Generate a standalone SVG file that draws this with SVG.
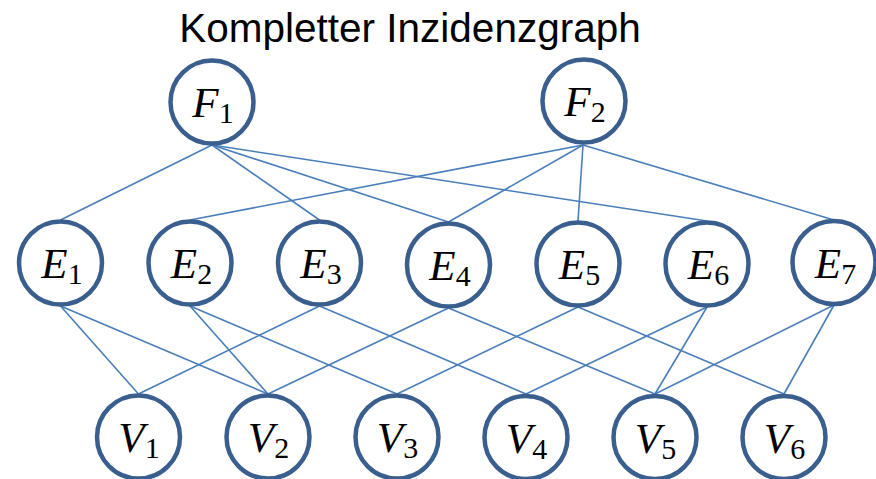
<svg xmlns="http://www.w3.org/2000/svg" width="876" height="479" viewBox="0 0 876 479">
<style>
.n{fill:#fff;stroke:#3A5F8E;stroke-width:4.5}
.c line{stroke:#4A7EBB;stroke-width:1.6}
.t{font-family:"Liberation Serif","DejaVu Serif",serif;font-size:43px;font-style:italic;fill:#000;text-anchor:middle}
.s{font-style:normal;font-size:30px}
.title{font-family:"Liberation Sans",Arial,sans-serif;font-size:40.5px;fill:#000;text-anchor:middle}
</style>
<rect width="876" height="479" fill="#fff"/>
<text class="title" x="410" y="42">Kompletter Inzidenzgraph</text>
<g class="c" id="connectors">
<line x1="212" y1="145" x2="60.5" y2="220"/>
<line x1="212" y1="145" x2="319.5" y2="220"/>
<line x1="212" y1="145" x2="448.5" y2="222"/>
<line x1="212" y1="145" x2="707" y2="221"/>
<line x1="583" y1="145" x2="190" y2="220"/>
<line x1="583" y1="145" x2="448.5" y2="222"/>
<line x1="583" y1="145" x2="578" y2="221"/>
<line x1="583" y1="145" x2="834" y2="220"/>
<line x1="60.5" y1="306" x2="138.5" y2="394"/>
<line x1="60.5" y1="306" x2="268" y2="394"/>
<line x1="190" y1="306" x2="268" y2="394"/>
<line x1="190" y1="306" x2="397" y2="394"/>
<line x1="319.5" y1="306" x2="138.5" y2="394"/>
<line x1="319.5" y1="306" x2="526" y2="394"/>
<line x1="448.5" y1="308" x2="268" y2="394"/>
<line x1="448.5" y1="308" x2="655" y2="394"/>
<line x1="578" y1="307" x2="397" y2="394"/>
<line x1="578" y1="307" x2="784" y2="394"/>
<line x1="707" y1="307" x2="526" y2="394"/>
<line x1="707" y1="307" x2="655" y2="394"/>
<line x1="834" y1="305" x2="655" y2="394"/>
<line x1="834" y1="305" x2="784" y2="394"/>
</g>
<g id="F1"><circle class="n" cx="212" cy="102" r="41.5"/><text class="t" x="213" y="117">F<tspan class="s" dy="6">1</tspan></text></g>
<g id="F2"><circle class="n" cx="584" cy="101" r="41.5"/><text class="t" x="585" y="116">F<tspan class="s" dy="6">2</tspan></text></g>
<g id="E1"><circle class="n" cx="60.5" cy="263" r="41.5"/><text class="t" x="62" y="278">E<tspan class="s" dy="6">1</tspan></text></g>
<g id="E2"><circle class="n" cx="190" cy="263" r="41.5"/><text class="t" x="191.5" y="278">E<tspan class="s" dy="6">2</tspan></text></g>
<g id="E3"><circle class="n" cx="319.5" cy="263" r="41.5"/><text class="t" x="321" y="278">E<tspan class="s" dy="6">3</tspan></text></g>
<g id="E4"><circle class="n" cx="448.5" cy="265" r="41.5"/><text class="t" x="450" y="280">E<tspan class="s" dy="6">4</tspan></text></g>
<g id="E5"><circle class="n" cx="578" cy="264" r="41.5"/><text class="t" x="579.5" y="279">E<tspan class="s" dy="6">5</tspan></text></g>
<g id="E6"><circle class="n" cx="707" cy="264" r="41.5"/><text class="t" x="708.5" y="279">E<tspan class="s" dy="6">6</tspan></text></g>
<g id="E7"><circle class="n" cx="834" cy="262.5" r="41.5"/><text class="t" x="835.5" y="277.5">E<tspan class="s" dy="6">7</tspan></text></g>
<g id="V1"><circle class="n" cx="138.5" cy="437" r="41.5"/><text class="t" x="139" y="452">V<tspan class="s" dy="6">1</tspan></text></g>
<g id="V2"><circle class="n" cx="268" cy="437" r="41.5"/><text class="t" x="268.5" y="452">V<tspan class="s" dy="6">2</tspan></text></g>
<g id="V3"><circle class="n" cx="397" cy="437" r="41.5"/><text class="t" x="397.5" y="452">V<tspan class="s" dy="6">3</tspan></text></g>
<g id="V4"><circle class="n" cx="526" cy="437.5" r="41.5"/><text class="t" x="526.5" y="452.5">V<tspan class="s" dy="6">4</tspan></text></g>
<g id="V5"><circle class="n" cx="655" cy="437.5" r="41.5"/><text class="t" x="655.5" y="452.5">V<tspan class="s" dy="6">5</tspan></text></g>
<g id="V6"><circle class="n" cx="784" cy="437.5" r="41.5"/><text class="t" x="784.5" y="452.5">V<tspan class="s" dy="6">6</tspan></text></g>
</svg>
